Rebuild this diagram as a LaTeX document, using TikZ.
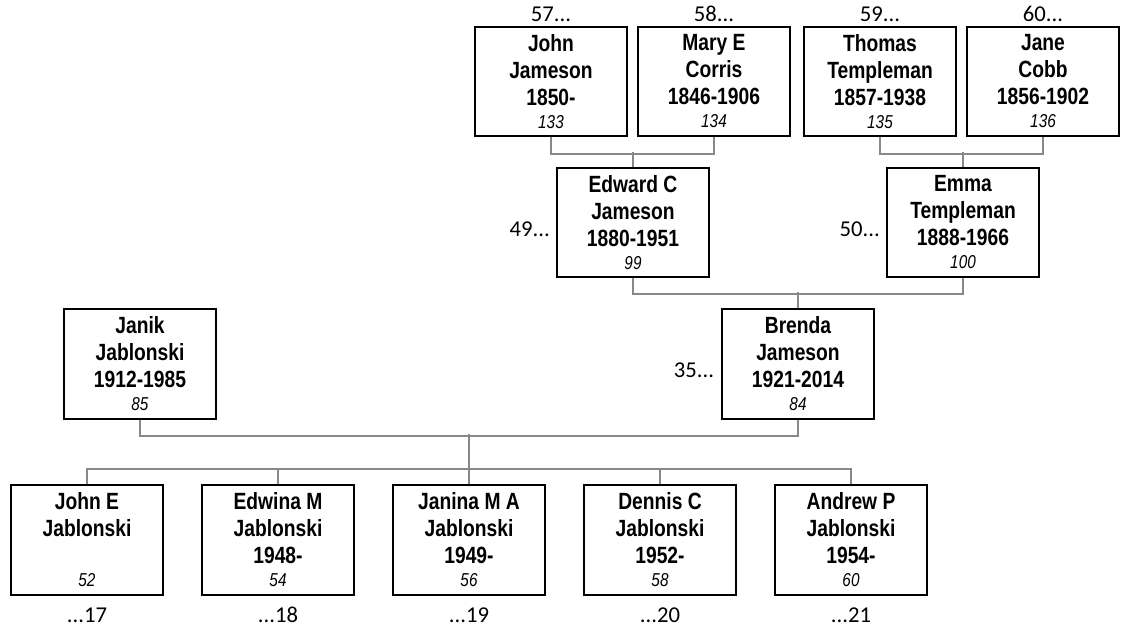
\documentclass[tikz,border=0pt]{standalone}
\usepackage{fontspec}
\setmainfont{Liberation Sans}
\newfontfamily\narrowfont[FakeStretch=0.82]{Liberation Sans}
\newfontfamily\tagfont{Carlito}
\usetikzlibrary{positioning}
\definecolor{cline}{HTML}{888888}
\tikzset{
  every picture/.style={x=0.75pt, y=-0.75pt},
  person/.style={draw, line width=1.5pt, minimum width=114pt, minimum height=82pt, inner sep=0pt, align=center,
    font=\narrowfont\bfseries\fontsize{17.6}{20.25}\selectfont},
  link/.style={draw=cline, line width=1.5pt},
  tag/.style={font=\tagfont\fontsize{17}{20}\selectfont, inner sep=0pt, text height=10.7pt, text depth=0pt},
}
\newcommand{\idno}[1]{\\[-3pt]{\mdseries\itshape\fontsize{14}{16}\selectfont #1}}

\begin{document}
\begin{tikzpicture}
  \useasboundingbox (0,0) rectangle (1125,628);
  % Top: great-grandparents
  \foreach \a/\b/\c/\no/\gen/\x in {John/Jameson/1850-/133/57/551, Mary E/Corris/1846-1906/134/58/714,
      Thomas/Templeman/1857-1938/135/59/880, Jane/Cobb/1856-1902/136/60/1043}{
    \node[person] (n\no) at (\x,81.5) {\a\\\b\\\c\idno{\no}};
    \node[tag, above=3pt of n\no] (t\gen) {\gen...};
  }
  % Middle: grandparents
  \node[person] (n99) at (633,222.5) {Edward C\\Jameson\\1880-1951\idno{99}};
  \node[tag, left=4.5pt of n99, yshift=-5pt] (t49) {49...};
  \node[person] (n100) at (963,222.5) {Emma\\Templeman\\1888-1966\idno{100}};
  \node[tag, left=4.5pt of n100, yshift=-5pt] (t50) {50...};
  % Parents
  \node[person] (n84) at (798,364) {Brenda\\Jameson\\1921-2014\idno{84}};
  \node[tag, left=5pt of n84, yshift=-5pt] (t35) {35...};
  \node[person] (n85) at (140,364) {Janik\\Jablonski\\1912-1985\idno{85}};
  % Bottom: children
  \foreach \nm/\dt/\no/\gen [count=\i] in {John E/{~}/52/17, Edwina M/1948-/54/18, Janina M A/1949-/56/19,
      Dennis C/1952-/58/20, Andrew P/1954-/60/21}{
    \node[person] (c\i) at ({-104+191*\i},540) {\nm\\Jablonski\\\dt\idno{\no}};
    \node[tag, below=9pt of c\i] (g\i) {...\gen};
  }
  % connectors
  \draw[link] (n133.south) -- ++(0,17) -| (n134.south);
  \draw[link] (n99.north) -- ++(0,-15);
  \draw[link] (n135.south) -- ++(0,17) -| (n136.south);
  \draw[link] (n100.north) -- ++(0,-15);
  \draw[link] (n99.south) -- ++(0,16) -| (n100.south);
  \draw[link] (n84.north) -- ++(0,-16);
  \draw[link] (n85.south) -- ++(0,16) -| (n84.south);
  \draw[link] (c3.north) -- ++(0,-50);
  \draw[link] (c1.north) -- ++(0,-15) -| (c5.north);
  \foreach \i in {2,4} \draw[link] (c\i.north) -- ++(0,-15);
\end{tikzpicture}
\end{document}
